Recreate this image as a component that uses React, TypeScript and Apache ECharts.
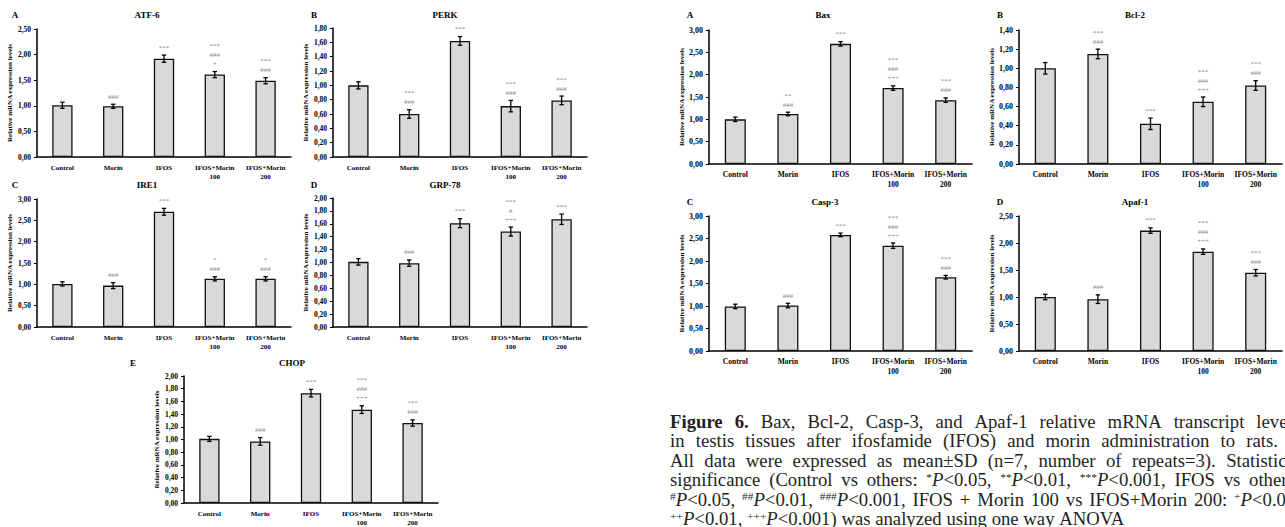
import React, { useEffect, useRef } from 'react';
import * as echarts from 'echarts';

const FONT = '"Liberation Serif", "Times New Roman", serif';

const categories = ['Control', 'Morin', 'IFOS', 'IFOS+Morin\n100', 'IFOS+Morin\n200'];

// ER stress panels (left figure)
const atf6Mean = [1.01, 0.99, 1.92, 1.61, 1.49];
const atf6Sd = [0.06, 0.04, 0.07, 0.06, 0.06];
const atf6Sig = ['', '###', '***', '***\n###\n+', '***\n###'];

const perkMean = [1.0, 0.6, 1.62, 0.71, 0.79];
const perkSd = [0.05, 0.06, 0.06, 0.08, 0.06];
const perkSig = ['', '***\n###', '***', '***\n###', '***\n###'];

const ire1Mean = [1.01, 0.97, 2.7, 1.13, 1.13];
const ire1Sd = [0.05, 0.07, 0.08, 0.05, 0.05];
const ire1Sig = ['', '###', '***', '*\n###', '*\n###'];

const grp78Mean = [1.01, 0.99, 1.61, 1.48, 1.67];
const grp78Sd = [0.05, 0.05, 0.07, 0.07, 0.08];
const grp78Sig = ['', '###', '***', '***\n#\n+++', '***'];

const chopMean = [1.01, 0.97, 1.73, 1.47, 1.26];
const chopSd = [0.04, 0.06, 0.06, 0.06, 0.05];
const chopSig = ['', '###', '***', '***\n###\n+++', '***\n###'];

// Apoptosis panels (right figure)
const baxMean = [1.0, 1.12, 2.69, 1.7, 1.43];
const baxSd = [0.05, 0.04, 0.05, 0.05, 0.05];
const baxSig = ['', '**\n###', '***', '***\n###\n+++', '***\n###'];

const bcl2Mean = [1.0, 1.15, 0.42, 0.65, 0.82];
const bcl2Sd = [0.06, 0.05, 0.06, 0.05, 0.05];
const bcl2Sig = ['', '***\n###', '***', '***\n###\n+++', '***\n###'];

const casp3Mean = [0.99, 1.01, 2.58, 2.34, 1.64];
const casp3Sd = [0.05, 0.05, 0.04, 0.06, 0.04];
const casp3Sig = ['', '###', '***', '***\n###\n+++', '***\n###'];

const apaf1Mean = [1.0, 0.96, 2.23, 1.84, 1.45];
const apaf1Sd = [0.05, 0.08, 0.05, 0.05, 0.06];
const apaf1Sig = ['', '###', '***', '***\n###\n+++', '***\n###'];

const yName = 'Relative mRNA expression levels';

const captionLines = [
  '{b|Figure} {b|6.} Bax, Bcl-2, Casp-3, and Apaf-1 relative mRNA transcript levels',
  'in testis tissues after ifosfamide (IFOS) and morin administration to rats.',
  'All data were expressed as mean±SD (n=7, number of repeats=3). Statistical',
  'significance (Control vs others: {s|*}{i|P}<0.05, {s|**}{i|P}<0.01, {s|***}{i|P}<0.001, IFOS vs others:',
  '{s|#}{i|P}<0.05, {s|##}{i|P}<0.01, {s|###}{i|P}<0.001, IFOS + Morin 100 vs IFOS+Morin 200: {s|+}{i|P}<0.05,',
  '{s|++}{i|P}<0.01, {s|+++}{i|P}<0.001) was analyzed using one way ANOVA',
];

type Panel = {
  letter: string; title: string; mean: number[]; sd: number[]; sig: string[];
  max: number; step: number;
  grid: { left: number; top: number; width: number; height: number };
  letterX: number; titleX: number; titleY: number; big: boolean;
};

const panels: Panel[] = [
  { letter: 'A', title: 'ATF-6', mean: atf6Mean, sd: atf6Sd, sig: atf6Sig, max: 2.5, step: 0.5,
    grid: { left: 37, top: 29, width: 254, height: 128 }, letterX: 15, titleX: 147, titleY: 15, big: false },
  { letter: 'B', title: 'PERK', mean: perkMean, sd: perkSd, sig: perkSig, max: 1.8, step: 0.2,
    grid: { left: 333, top: 28, width: 254, height: 129 }, letterX: 314, titleX: 445, titleY: 15, big: false },
  { letter: 'C', title: 'IRE1', mean: ire1Mean, sd: ire1Sd, sig: ire1Sig, max: 3.0, step: 0.5,
    grid: { left: 37, top: 199, width: 254, height: 128 }, letterX: 15, titleX: 147, titleY: 185, big: false },
  { letter: 'D', title: 'GRP-78', mean: grp78Mean, sd: grp78Sd, sig: grp78Sig, max: 2.0, step: 0.2,
    grid: { left: 333, top: 198, width: 254, height: 129 }, letterX: 314, titleX: 445, titleY: 185, big: false },
  { letter: 'E', title: 'CHOP', mean: chopMean, sd: chopSd, sig: chopSig, max: 2.0, step: 0.2,
    grid: { left: 184, top: 376, width: 254, height: 130 }, letterX: 133, titleX: 292, titleY: 363, big: false },
  { letter: 'A', title: 'Bax', mean: baxMean, sd: baxSd, sig: baxSig, max: 3.0, step: 0.5,
    grid: { left: 709, top: 30, width: 263, height: 134 }, letterX: 690, titleX: 823, titleY: 15, big: true },
  { letter: 'B', title: 'Bcl-2', mean: bcl2Mean, sd: bcl2Sd, sig: bcl2Sig, max: 1.4, step: 0.2,
    grid: { left: 1019, top: 30, width: 263, height: 134 }, letterX: 1000, titleX: 1135, titleY: 15, big: true },
  { letter: 'C', title: 'Casp-3', mean: casp3Mean, sd: casp3Sd, sig: casp3Sig, max: 3.0, step: 0.5,
    grid: { left: 709, top: 216, width: 263, height: 135 }, letterX: 690, titleX: 825, titleY: 202, big: true },
  { letter: 'D', title: 'Apaf-1', mean: apaf1Mean, sd: apaf1Sd, sig: apaf1Sig, max: 2.5, step: 0.5,
    grid: { left: 1019, top: 216, width: 263, height: 135 }, letterX: 1000, titleX: 1135, titleY: 202, big: true },
];

const CAP_SIZE = 18;
const CAP_SCALE = 1.04;
const CAP_FONT = '"Liberation Serif", "Times New Roman", serif';
const capFont = (k: string) =>
  k === 'b' ? `bold ${CAP_SIZE}px ${CAP_FONT}` :
  k === 'i' ? `italic ${CAP_SIZE}px ${CAP_FONT}` :
  k === 's' ? `11px ${CAP_FONT}` : `${CAP_SIZE}px ${CAP_FONT}`;

const RICH: any = {
  n: { fontSize: CAP_SIZE, fontFamily: CAP_FONT, fill: '#231f20' },
  b: { fontSize: CAP_SIZE, fontFamily: CAP_FONT, fontWeight: 'bold', fill: '#231f20' },
  i: { fontSize: CAP_SIZE, fontFamily: CAP_FONT, fontStyle: 'italic', fill: '#231f20' },
  s: { fontSize: 11, fontFamily: CAP_FONT, fill: '#231f20', verticalAlign: 'top' },
};

function parseWord(w: string): [string, string][] {
  const segs: [string, string][] = [];
  const re = /\{(\w)\|([^}]*)\}|([^{]+)/g;
  let m: RegExpExecArray | null;
  while ((m = re.exec(w))) {
    if (m[1]) segs.push([m[1], m[2]]);
    else segs.push(['n', m[3]]);
  }
  return segs;
}

function buildCaption(): any[] {
  const canvas = document.createElement('canvas');
  const ctx = canvas.getContext('2d') as CanvasRenderingContext2D;
  const measure = (k: string, t: string) => { ctx.font = capFont(k); return ctx.measureText(t).width * CAP_SCALE; };
  const startX = 670;
  const ends = [1300, 1278, 1300, 1300, 1300, 0];
  const ys = [422, 441.5, 461, 480.5, 500, 519.5];
  const out: any[] = [];
  captionLines.forEach((line, li) => {
    const words = line.split(' ').map(parseWord);
    const widths = words.map((segs) => segs.reduce((s, [k, t]) => s + measure(k, t), 0));
    const total = widths.reduce((a, b) => a + b, 0);
    const gap = ends[li] ? (ends[li] - startX - total) / (words.length - 1) : measure('n', ' ');
    let x = startX;
    words.forEach((segs, wi) => {
      out.push({
        type: 'text', x, y: ys[li], scaleX: CAP_SCALE, silent: true,
        style: {
          text: segs.map(([k, t]) => `{${k}|${t}}`).join(''),
          rich: RICH, fontSize: CAP_SIZE, fontFamily: CAP_FONT, fill: '#231f20',
          align: 'left', verticalAlign: 'middle',
        },
      });
      x += widths[wi] + gap;
    });
  });
  return out;
}

function buildOption(): any {
  const grid: any[] = [];
  const xAxis: any[] = [];
  const yAxis: any[] = [];
  const series: any[] = [];
  const graphic: any[] = [];

  panels.forEach((p, i) => {
    const lblSize = p.big ? 7.5 : 7;
    grid.push({ ...p.grid, containLabel: false });
    xAxis.push({
      type: 'category', gridIndex: i, data: categories,
      axisLine: { lineStyle: { color: '#000', width: 1.5 } },
      axisTick: { show: false },
      axisLabel: {
        interval: 0, color: '#000', fontFamily: FONT, fontWeight: 'bold',
        fontSize: lblSize, lineHeight: lblSize + 2, margin: 6,
      },
    });
    yAxis.push({
      type: 'value', gridIndex: i, min: 0, max: p.max, interval: p.step,
      axisLine: { show: true, lineStyle: { color: '#000', width: 1.5 } },
      axisTick: { show: true, length: 3, lineStyle: { color: '#000', width: 1 } },
      splitLine: { show: false },
      axisLabel: {
        color: '#000', fontFamily: FONT, fontWeight: 'bold', fontSize: p.big ? 8 : 7.5, margin: 6,
        formatter: (v: number) => v.toFixed(2).replace('.', ','),
      },
      name: yName, nameLocation: 'middle', nameGap: 22,
      nameTextStyle: { color: '#000', fontFamily: FONT, fontWeight: 'bold', fontSize: 7 },
    });
    series.push({
      type: 'bar', xAxisIndex: i, yAxisIndex: i, data: p.mean, barWidth: '40%', silent: true,
      itemStyle: { color: '#d9d9d9', borderColor: '#111', borderWidth: 1.3 },
    });
    series.push({
      type: 'custom', xAxisIndex: i, yAxisIndex: i, z: 10, silent: true,
      data: p.mean.map((m, j) => [j, m, p.sd[j]]),
      encode: { x: 0, y: 1 },
      renderItem: (params: any, api: any) => {
        const x = api.value(0);
        const m = api.value(1);
        const s = api.value(2);
        const top = api.coord([x, m + s]);
        const bot = api.coord([x, m - s]);
        const cw = 2.2;
        const stroke = { stroke: '#000', lineWidth: 1.3 };
        return {
          type: 'group',
          children: [
            { type: 'line', shape: { x1: top[0], y1: top[1], x2: bot[0], y2: bot[1] }, style: stroke },
            { type: 'line', shape: { x1: top[0] - cw, y1: top[1], x2: top[0] + cw, y2: top[1] }, style: stroke },
            { type: 'line', shape: { x1: bot[0] - cw, y1: bot[1], x2: bot[0] + cw, y2: bot[1] }, style: stroke },
            {
              type: 'text', x: top[0], y: top[1] - 3,
              style: {
                text: p.sig[params.dataIndex], align: 'center', verticalAlign: 'bottom',
                fontSize: 7, lineHeight: 9, fontFamily: FONT, fill: '#8a8a8a',
              },
            },
          ],
        };
      },
    });
    graphic.push({
      type: 'text', x: p.letterX, y: p.titleY, silent: true,
      style: { text: p.letter, fontFamily: FONT, fontWeight: 'bold', fontSize: 9, fill: '#000', align: 'center', verticalAlign: 'middle' },
    });
    graphic.push({
      type: 'text', x: p.titleX, y: p.titleY, silent: true,
      style: { text: p.title, fontFamily: FONT, fontWeight: 'bold', fontSize: 9, fill: '#000', align: 'center', verticalAlign: 'middle' },
    });
  });

  return {
    animation: false,
    backgroundColor: '#fff',
    grid, xAxis, yAxis, series,
    graphic: [...graphic, ...buildCaption()],
  };
}

export default function App() {
  const ref = useRef<HTMLDivElement>(null);
  useEffect(() => {
    if (!ref.current) return;
    const chart = echarts.init(ref.current, undefined, { renderer: 'svg' });
    chart.setOption(buildOption());
    return () => chart.dispose();
  }, []);
  return (
    <div
      ref={ref}
      style={{ position: 'absolute', left: 0, top: 0, width: 1285, height: 527, background: '#fff' }}
    />
  );
}
